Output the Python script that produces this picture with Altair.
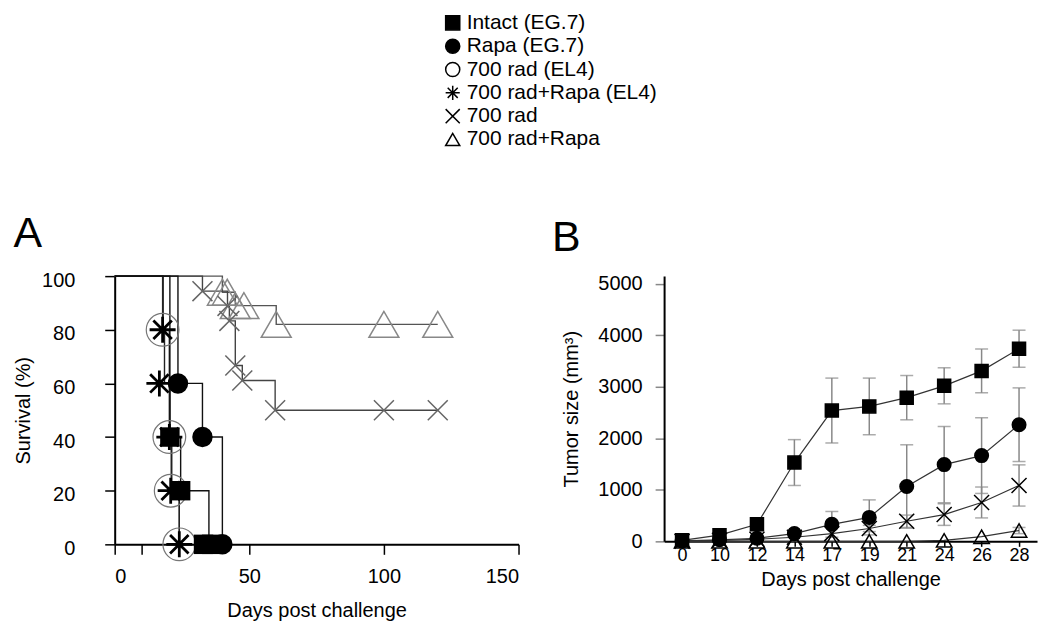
import altair as alt
import pandas as pd

FONT = "Liberation Sans"

# ---------------- Legend / series ----------------
series = ["Intact (EG.7)", "Rapa (EG.7)", "700 rad (EL4)",
          "700 rad+Rapa (EL4)", "700 rad", "700 rad+Rapa"]
X_PATH = "M-1,-1L1,1M-1,1L1,-1"
AST_PATH = "M0,-1L0,1M-1,0L1,0M-0.71,-0.71L0.71,0.71M-0.71,0.71L0.71,-0.71"
shapes = ["square", "circle", "circle", AST_PATH, X_PATH, "triangle-up"]
fills = ["black", "black", "white", "black", "transparent", "transparent"]
strokes = ["black", "black", "black", "black", "black", "black"]
sizes_b = [170, 240, 240, 250, 200, 380]

shape_scale = alt.Scale(domain=series, range=shapes)
fill_scale = alt.Scale(domain=series, range=fills)
stroke_scale = alt.Scale(domain=series, range=strokes)

# ---------------- Panel A : survival (Kaplan-Meier) ----------------
intact_km_days = [0, 20.5, 24.5, 35]
intact_km_surv = [100, 40, 20, 0]
intact_mk_days = [20.5, 24.5, 33, 36]
intact_mk_surv = [40, 20, 0, 0]

rapa_km_days = [0, 23.5, 32.6, 40]
rapa_km_surv = [100, 60, 40, 0]
rapa_mk_days = [23.5, 32.6, 40]
rapa_mk_surv = [60, 40, 0]

el4_km_days = [0, 18, 20.3, 21, 24]
el4_km_surv = [100, 80, 40, 20, 0]
el4_mk_days = [17.8, 20.3, 20.8, 24]
el4_mk_surv = [80, 40, 20, 0]

el4r_km_days = [0, 17.8, 18.5, 20.5, 21.2, 24]
el4r_km_surv = [100, 80, 60, 40, 20, 0]
el4r_mk_days = [17.8, 16.6, 20.3, 20.8, 24]
el4r_mk_surv = [80, 60, 40, 20, 0]

rad_km_days = [0, 32.6, 41.9, 42.6, 44.8, 47.4, 59.6, 120]
rad_km_surv = [100, 94.4, 88.9, 83.3, 66.7, 61.1, 50, 50]
rad_mk_days = [32.6, 41.9, 42.6, 44.8, 47.4, 59.6, 100, 120]
rad_mk_surv = [94.4, 88.9, 83.3, 66.7, 61.1, 50, 50, 50]

radr_km_days = [0, 40, 44.8, 60, 120]
radr_km_surv = [100, 94, 89, 82, 82]
radr_mk_days = [40, 41.8, 44.8, 48, 60, 100, 120]
radr_mk_surv = [94, 94, 89, 89, 82, 82, 82]

xA = alt.X("day:Q", scale=alt.Scale(domain=[0, 150], nice=False),
           axis=alt.Axis(values=[0, 10, 50, 100, 150],
                         labelExpr="datum.value == 10 ? '' : datum.label",
                         tickSize=10, labelPadding=12, titlePadding=14,
                         grid=False),
           title="Days post challenge")
yA = alt.Y("surv:Q", scale=alt.Scale(domain=[0, 100], nice=False),
           axis=alt.Axis(values=[0, 20, 40, 60, 80, 100], tickSize=10,
                         labelPadding=30, labelOffset=4, titlePadding=8,
                         grid=False),
           title="Survival (%)")


def km_line(days, surv, color):
    df = pd.DataFrame({"day": days, "surv": surv})
    return alt.Chart(df).mark_line(interpolate="step-after", color=color,
                                   strokeWidth=1.4).encode(x=xA, y=yA)


def km_marks(days, surv, **kw):
    df = pd.DataFrame({"day": days, "surv": surv})
    return alt.Chart(df).mark_point(opacity=1, **kw).encode(x=xA, y=yA)


panelA = alt.layer(
    km_line(radr_km_days, radr_km_surv, "#555"),
    km_line(rad_km_days, rad_km_surv, "#444"),
    km_line(el4_km_days, el4_km_surv, "#222"),
    km_line(el4r_km_days, el4r_km_surv, "#222"),
    km_line(intact_km_days, intact_km_surv, "#111"),
    km_line(rapa_km_days, rapa_km_surv, "#111"),
    km_marks(el4_mk_days, el4_mk_surv, shape="circle", filled=False,
             stroke="#777", strokeWidth=1.2, size=1075),
    km_marks(radr_mk_days, radr_mk_surv, shape="triangle-up", filled=False,
             stroke="#888", strokeWidth=1.5, size=900),
    km_marks(rad_mk_days, rad_mk_surv, shape=X_PATH, filled=False,
             stroke="#666", strokeWidth=1.5, size=400),
    km_marks(el4r_mk_days, el4r_mk_surv, shape=AST_PATH, filled=False,
             stroke="black", strokeWidth=2.8, size=680),
    km_marks(rapa_mk_days, rapa_mk_surv, shape="circle", filled=True,
             color="black", size=420),
    km_marks(intact_mk_days, intact_mk_surv, shape="square", filled=True,
             color="black", size=380),
).properties(
    width=405, height=269,
    title=alt.Title("A", anchor="start", fontSize=43, fontWeight="normal",
                    font=FONT, offset=14),
)

# ---------------- Panel B : tumor size ----------------
days_b = ["0", "10", "12", "14", "17", "19", "21", "24", "26", "28"]
intact_b = [20, 120, 330, 1530, 2540, 2620, 2790, 3020, 3310, 3740]
intact_err = [0, 0, 0, 445, 630, 550, 430, 350, 425, 360]
rapa_b = [10, 30, 60, 150, 330, 465, 1065, 1490, 1665, 2265]
rapa_err = [0, 0, 0, 0, 250, 340, 810, 740, 735, 715]
rad_b = [0, 20, 40, 80, 150, 250, 390, 520, 755, 1085]
rad_err = [0, 0, 0, 0, 0, 60, 120, 210, 300, 400]
radr_b = [0, 0, 0, 0, 0, 0, 0, 20, 90, 210]
radr_err = [0, 0, 0, 0, 0, 0, 0, 0, 0, 60]

rows = []
for name, vals, errs in [("Intact (EG.7)", intact_b, intact_err),
                         ("Rapa (EG.7)", rapa_b, rapa_err),
                         ("700 rad", rad_b, rad_err),
                         ("700 rad+Rapa", radr_b, radr_err)]:
    for d, v, e in zip(days_b, vals, errs):
        rows.append({"day": d, "size": v, "lo": v - e, "hi": v + e,
                     "err": e, "series": name})
dfB = pd.DataFrame(rows)
dfE = dfB[dfB["err"] > 0]

xB = alt.X("day:O", sort=days_b,
           scale=alt.Scale(type="point", padding=0.48),
           axis=alt.Axis(labelAngle=0, tickSize=5, labelPadding=0,
                         labelFontSize=18, titlePadding=5, grid=False),
           title="Days post challenge")
yscaleB = alt.Scale(domain=[0, 5150], nice=False)
yB = alt.Y("size:Q", scale=yscaleB,
           axis=alt.Axis(values=[0, 1000, 2000, 3000, 4000, 5000],
                         format="d",
                         tickSize=9, tickColor="#888", labelPadding=13,
                         titlePadding=16, grid=False),
           title="Tumor size (mm³)")

linesB = alt.Chart(dfB).mark_line(color="#333", strokeWidth=1.2).encode(
    x=xB, y=yB, detail="series:N")
err_rule = alt.Chart(dfE).mark_rule(color="#888", strokeWidth=1.5).encode(
    x=xB, y=alt.Y("lo:Q", scale=yscaleB), y2="hi:Q")
cap_hi = alt.Chart(dfE).mark_tick(color="#888", thickness=1.5, size=13,
                                  orient="horizontal").encode(
    x=xB, y=alt.Y("hi:Q", scale=yscaleB))
cap_lo = alt.Chart(dfE).mark_tick(color="#888", thickness=1.5, size=13,
                                  orient="horizontal").encode(
    x=xB, y=alt.Y("lo:Q", scale=yscaleB))
pointsB = alt.Chart(dfB).mark_point(opacity=1, strokeWidth=1.5).encode(
    x=xB, y=yB,
    shape=alt.Shape("series:N", scale=shape_scale, legend=None),
    fill=alt.Fill("series:N", scale=fill_scale, legend=None),
    stroke=alt.Stroke("series:N", scale=stroke_scale, legend=None),
    size=alt.Size("series:N", scale=alt.Scale(domain=series, range=sizes_b),
                  legend=None),
)

panelB = alt.layer(err_rule, cap_hi, cap_lo, linesB, pointsB).properties(
    width=374, height=266,
    title=alt.Title("B", anchor="start", fontSize=43, fontWeight="normal",
                    font=FONT, offset=14, dx=-10),
)

# ---------------- Legend block (top) ----------------
dfL = pd.DataFrame({"series": series})
yL = alt.Y("series:N", sort=series, axis=None,
           scale=alt.Scale(type="point", padding=0.3))
leg_pts = alt.Chart(dfL).mark_point(opacity=1, strokeWidth=1.5,
                                    size=200).encode(
    y=yL,
    shape=alt.Shape("series:N", scale=shape_scale, legend=None),
    fill=alt.Fill("series:N", scale=fill_scale, legend=None),
    stroke=alt.Stroke("series:N", scale=stroke_scale, legend=None),
)
leg_txt = alt.Chart(dfL).mark_text(align="left", baseline="middle", dx=14,
                                   fontSize=21, font=FONT,
                                   color="black").encode(
    y=yL, text="series:N")
legend_block = alt.layer(leg_pts, leg_txt).properties(width=678, height=131)

chart = alt.vconcat(
    legend_block,
    alt.hconcat(panelA, panelB, spacing=32),
    spacing=64,
).properties(
    padding={"left": 5, "top": 3, "right": 5, "bottom": 5},
).configure_view(
    stroke=None
).configure_axis(
    labelFont=FONT, titleFont=FONT, labelFontSize=20, titleFontSize=20,
    titleFontWeight="normal", labelColor="black", titleColor="black",
    domainColor="black", domainWidth=2, tickColor="black", tickWidth=1.5,
)

chart.save("out.html", embed_options={"renderer": "svg", "actions": False})
